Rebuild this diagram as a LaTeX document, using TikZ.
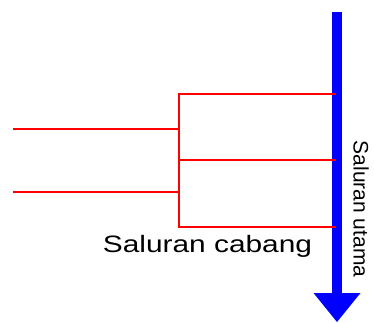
\documentclass[tikz,border=0pt]{standalone}
\usepackage{fontspec}
\setmainfont{Liberation Sans}
\usetikzlibrary{arrows.meta}
\begin{document}
\begin{tikzpicture}[x=1pt,y=-1pt,
  branch/.style={draw=red, line width=2.3pt},
  mainflow/.style={draw=blue, line width=10pt, -{Triangle[width=47pt,length=29pt,line width=0pt]}},
  lbl/.style={inner sep=0pt, font=\fontsize{23.7}{28}\selectfont}
]
\useasboundingbox (0,0) rectangle (374,322);
% main channel
\coordinate (mtop) at (337,12);
\coordinate (mbot) at (337,322);
\draw[mainflow] (mtop) -- (mbot);
% branch channels
\coordinate (l1) at (13,129);
\coordinate (l2) at (13,192);
\coordinate (j1) at (179,129);
\coordinate (j2) at (179,192);
\coordinate (c1) at (179,94);
\coordinate (c2) at (179,160);
\coordinate (c3) at (179,227);
\coordinate (r1) at (336,94);
\coordinate (r2) at (336,160);
\coordinate (r3) at (336,227);
\draw[branch] (l1) -- (j1);
\draw[branch] (l2) -- (j2);
\draw[branch] (r1) -- (c1) -- (c3) -- (r3);
\draw[branch] (c2) -- (r2);
% labels
\node[lbl, anchor=base, xscale=1.26] (cab) at (207.5,252) {Saluran cabang};
\node[lbl, anchor=base, rotate=-90, font=\fontsize{21}{25}\selectfont] (uta) at (353.5,209) {Saluran utama};
\end{tikzpicture}
\end{document}
